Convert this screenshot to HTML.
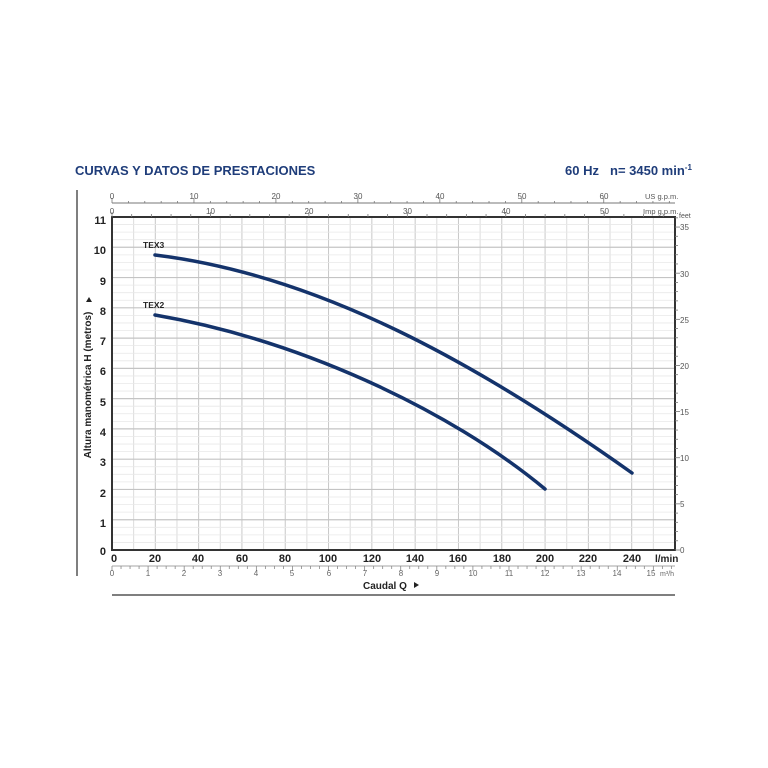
<!DOCTYPE html>
<html><head><meta charset="utf-8"><style>
html,body{margin:0;padding:0;background:#fff;}
svg{display:block;font-family:"Liberation Sans",Arial,sans-serif;}
</style></head><body>
<svg width="768" height="768" viewBox="0 0 768 768" xmlns="http://www.w3.org/2000/svg">
<rect width="768" height="768" fill="#fff"/>
<text x="75" y="175" font-size="13" font-weight="bold" fill="#1f3d7a">CURVAS Y DATOS DE PRESTACIONES</text>
<text x="565" y="175" font-size="13" font-weight="bold" fill="#1f3d7a">60 Hz</text>
<text x="610" y="175" font-size="13" font-weight="bold" fill="#1f3d7a">n= 3450 min<tspan font-size="8" dy="-5">-1</tspan></text>
<line x1="77" y1="190" x2="77" y2="576" stroke="#555" stroke-width="1.5"/>
<line x1="112" y1="595" x2="675" y2="595" stroke="#555" stroke-width="1.5"/>
<g id="grid"></g>
<rect x="112" y="217" width="563" height="333" fill="none" stroke="#333" stroke-width="2"/>
<line x1="112" y1="203" x2="675" y2="203" stroke="#777" stroke-width="1"/>
<g id="ticks"></g>
<g font-size="8" fill="#555" text-anchor="middle">
<text x="112" y="199">0</text><text x="194" y="199">10</text><text x="276" y="199">20</text><text x="358" y="199">30</text><text x="440" y="199">40</text><text x="522" y="199">50</text><text x="604" y="199">60</text>
<text x="112" y="214">0</text><text x="210.5" y="214">10</text><text x="309" y="214">20</text><text x="407.5" y="214">30</text><text x="506" y="214">40</text><text x="604.5" y="214">50</text>
</g>
<text x="645" y="199" font-size="7.5" fill="#555">US g.p.m.</text>
<text x="643" y="214" font-size="7.5" fill="#555">Imp g.p.m.</text>
<text x="679" y="218" font-size="7" fill="#555">feet</text>
<g font-size="8" fill="#555">
<text x="680" y="230">35</text><text x="680" y="277">30</text><text x="680" y="323">25</text><text x="680" y="369">20</text><text x="680" y="415">15</text><text x="680" y="461">10</text><text x="680" y="507">5</text><text x="680" y="553">0</text>
</g>
<g font-size="11" font-weight="bold" fill="#222" text-anchor="end">
<text x="106" y="224">11</text><text x="106" y="254">10</text><text x="106" y="285">9</text><text x="106" y="315">8</text><text x="106" y="345">7</text><text x="106" y="375">6</text><text x="106" y="406">5</text><text x="106" y="436">4</text><text x="106" y="466">3</text><text x="106" y="497">2</text><text x="106" y="527">1</text><text x="106" y="555">0</text>
</g>
<g font-size="11" font-weight="bold" fill="#222" text-anchor="middle">
<text x="114" y="562">0</text><text x="155" y="562">20</text><text x="198" y="562">40</text><text x="242" y="562">60</text><text x="285" y="562">80</text><text x="328" y="562">100</text><text x="372" y="562">120</text><text x="415" y="562">140</text><text x="458" y="562">160</text><text x="502" y="562">180</text><text x="545" y="562">200</text><text x="588" y="562">220</text><text x="632" y="562">240</text>
</g>
<text x="655" y="562" font-size="10" font-weight="bold" fill="#222">l/min</text>
<line x1="112" y1="566" x2="675" y2="566" stroke="#888" stroke-width="0.8"/>
<g font-size="8" fill="#666" text-anchor="middle">
<text x="112" y="576">0</text><text x="148" y="576">1</text><text x="184" y="576">2</text><text x="220" y="576">3</text><text x="256" y="576">4</text><text x="292" y="576">5</text><text x="329" y="576">6</text><text x="365" y="576">7</text><text x="401" y="576">8</text><text x="437" y="576">9</text><text x="473" y="576">10</text><text x="509" y="576">11</text><text x="545" y="576">12</text><text x="581" y="576">13</text><text x="617" y="576">14</text><text x="651" y="576">15</text>
</g>
<text x="660" y="576" font-size="7" fill="#666">m³/h</text>
<text x="363" y="589" font-size="10" font-weight="bold" fill="#222">Caudal Q</text>
<path d="M414 582 l5 3 l-5 3z" fill="#222"/>
<text transform="translate(91,385) rotate(-90)" font-size="10" font-weight="bold" fill="#222" text-anchor="middle">Altura manométrica H (metros)</text>
<path d="M86 298 l3 5 l3 -5z" transform="rotate(180 89 300)" fill="#222"/>
<text x="143" y="248" font-size="8.5" font-weight="bold" fill="#222">TEX3</text>
<text x="143" y="308" font-size="8.5" font-weight="bold" fill="#222">TEX2</text>
<path d="M155 255 C320 275 480 365 632 473" fill="none" stroke="#14336b" stroke-width="3.5" stroke-linecap="round"/>
<path d="M155 315 C300 340 450 410 545 489" fill="none" stroke="#14336b" stroke-width="3.5" stroke-linecap="round"/>
<script>
(function(){
var ns="http://www.w3.org/2000/svg",g=document.getElementById("grid"),t=document.getElementById("ticks");
function L(p,x1,y1,x2,y2,c,w){var l=document.createElementNS(ns,"line");l.setAttribute("x1",x1);l.setAttribute("y1",y1);l.setAttribute("x2",x2);l.setAttribute("y2",y2);l.setAttribute("stroke",c);l.setAttribute("stroke-width",w);p.appendChild(l);}
var k=563/260;
for(var q=10;q<260;q+=10){var x=112+q*k;L(g,x,217,x,550,q%20==0?"#c8c8c8":"#dcdcdc",1);}
var py=333/11;
for(var r=1;r<44;r++){var h=r/4;var y=550-h*py;L(g,112,y,675,y,r%4==0?"#c4c4c4":"#e8e8e8",r%4==0?1.2:0.8);}
for(var u=0;u<=68;u+=2){var x=112+u*3.785*k;if(x>675)break;L(t,x,203,x,u%10==0?198:201,"#777",0.8);}
for(var u=0;u<=56;u+=2){var x=112+u*4.546*k;if(x>675)break;L(t,x,217,x,u%10==0?212:214,"#777",0.8);}
for(var f=0;f<=36;f++){var y=550-f*0.3048*py;L(t,675,y,f%5==0?680:678,y,"#777",0.8);}
for(var m=0;m<=15.5;m+=0.25){var x=112+m*1000/60*k;if(x>675)break;L(t,x,566,x,(m%1==0)?571:569,"#888",0.8);}
})();
</script>
</svg>
</body></html>
